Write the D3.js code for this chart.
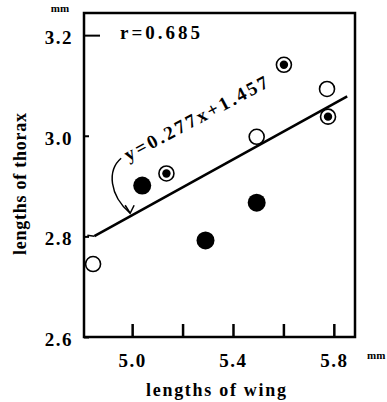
<!DOCTYPE html>
<html>
<head>
<meta charset="utf-8">
<script src="https://cdn.jsdelivr.net/npm/d3@7"></script>
<style>
  body { margin: 0; background: #fff; }
  text { font-family: "Liberation Serif", "DejaVu Serif", serif; font-weight: bold; fill: #000; }
</style>
</head>
<body>
<div id="chart"></div>
<script>
// Data (wing length vs thorax length, mm)
const openX = [4.845, 5.494, 5.773];
const openY = [2.745, 2.998, 3.093];
const filledX = [5.04, 5.291, 5.494];
const filledY = [2.901, 2.792, 2.867];
const ringX = [5.136, 5.602, 5.777];
const ringY = [2.925, 3.141, 3.038];

const xTicks = [5.0, 5.2, 5.4, 5.6, 5.8];
const xLabels = ["5.0", "", "5.4", "", "5.8"];
const yTicks = [2.6, 2.8, 3.0, 3.2];

const slope = 0.277, intercept = 1.457;
const fitRange = [4.85, 5.853];

// SVG setup
const W = 387, H = 402;
const margin = {top: 13, right: 32, bottom: 65, left: 84};
const width = W - margin.left - margin.right;
const height = H - margin.top - margin.bottom;

const svg = d3.select("#chart")
    .append("svg")
    .attr("width", W)
    .attr("height", H)
    .append("g")
    .attr("transform", `translate(${margin.left}, ${margin.top})`);

const x = d3.scaleLinear().domain([4.809, 5.884]).range([0, width]);
const y = d3.scaleLinear().domain([2.6, 3.244]).range([height, 0]);

// X axis: inward ticks, labels only on every other tick
const xAxis = svg.append("g")
    .attr("transform", `translate(0, ${height})`)
    .call(d3.axisBottom(x).tickValues(xTicks)
        .tickFormat((d, i) => xLabels[i])
        .tickSizeInner(-13).tickSizeOuter(0).tickPadding(17));
xAxis.select(".domain").remove();
xAxis.selectAll("line").attr("stroke", "#000").attr("stroke-width", 2.5);
xAxis.selectAll("text")
    .style("font-size", "19px")
    .attr("letter-spacing", "1.5px");

// Y axis
const yAxis = svg.append("g")
    .call(d3.axisLeft(y).tickValues(yTicks)
        .tickFormat(d3.format(".1f"))
        .tickSizeInner(-5).tickSizeOuter(0).tickPadding(11));
yAxis.select(".domain").remove();
yAxis.selectAll("line")
    .attr("stroke", "#000").attr("stroke-width", 2)
    .attr("x2", d => d === 3.2 ? 16 : 5);
yAxis.selectAll("text")
    .style("font-size", "19px")
    .attr("letter-spacing", "1.5px")
    .attr("dy", "0.45em");

// Frame
svg.append("rect")
    .attr("width", width)
    .attr("height", height)
    .attr("fill", "none")
    .attr("stroke", "#000")
    .attr("stroke-width", 2.5);

// Regression line
const fit = v => slope * v + intercept;
svg.append("line")
    .attr("x1", x(fitRange[0])).attr("y1", y(fit(fitRange[0])))
    .attr("x2", x(fitRange[1])).attr("y2", y(fit(fitRange[1])))
    .attr("stroke", "#000").attr("stroke-width", 2.6);
svg.append("line")
    .attr("x1", x(fitRange[0]) - 7).attr("y1", y(fit(fitRange[0])) - 1)
    .attr("x2", x(fitRange[0])).attr("y2", y(fit(fitRange[0])))
    .attr("stroke", "#000").attr("stroke-width", 1.5);

// Points
svg.selectAll(".open")
    .data(openX)
    .enter().append("circle")
    .attr("cx", d => x(d))
    .attr("cy", (d, i) => y(openY[i]))
    .attr("r", 7.5)
    .attr("fill", "#fff")
    .attr("stroke", "#000")
    .attr("stroke-width", 1.6);

svg.selectAll(".filled")
    .data(filledX)
    .enter().append("circle")
    .attr("cx", d => x(d))
    .attr("cy", (d, i) => y(filledY[i]))
    .attr("r", 9)
    .attr("fill", "#000");

const rings = svg.selectAll(".ring")
    .data(ringX)
    .enter().append("g")
    .attr("transform", (d, i) => `translate(${x(d)}, ${y(ringY[i])})`);
rings.append("circle")
    .attr("r", 7.5)
    .attr("fill", "#fff")
    .attr("stroke", "#000")
    .attr("stroke-width", 1.6);
rings.append("circle")
    .attr("r", 4.2)
    .attr("fill", "#000");

// Equation annotation, running along the fitted line
const eqX = 199 - margin.left, eqY = 124 - margin.top;
svg.append("text")
    .attr("transform", `translate(${eqX}, ${eqY}) rotate(-28)`)
    .attr("text-anchor", "middle")
    .attr("textLength", 160)
    .attr("lengthAdjust", "spacing")
    .style("font-size", "19px")
    .text("y=0.277x+1.457");

// Curved arrow pointing at the line
const tipX = x(5.0) - 2, tipY = y(fit(5.0)) - 2;
svg.append("path")
    .attr("d", `M${tipX - 9},${tipY - 55} C${tipX - 23},${tipY - 43} ${tipX - 21},${tipY - 18} ${tipX},${tipY}`)
    .attr("fill", "none").attr("stroke", "#000").attr("stroke-width", 1.5);
svg.append("path")
    .attr("d", `M${tipX - 5},${tipY - 8} L${tipX},${tipY} L${tipX + 4},${tipY - 8}`)
    .attr("fill", "none").attr("stroke", "#000").attr("stroke-width", 1.5);

// Correlation coefficient
svg.append("text")
    .attr("x", 120 - margin.left)
    .attr("y", 39 - margin.top)
    .attr("textLength", 80)
    .attr("lengthAdjust", "spacing")
    .style("font-size", "19px")
    .text("r=0.685");

// Units
svg.append("text")
    .attr("x", -24).attr("y", -1)
    .attr("text-anchor", "middle")
    .style("font-size", "11px")
    .text("mm");
svg.append("text")
    .attr("x", width + 12).attr("y", height + 22)
    .style("font-size", "11px")
    .text("mm");

// Axis titles
svg.append("text")
    .attr("x", x(5.4) - 17)
    .attr("y", height + 59)
    .attr("text-anchor", "middle")
    .attr("textLength", 140)
    .attr("lengthAdjust", "spacing")
    .style("font-size", "18px")
    .text("lengths of wing");

svg.append("text")
    .attr("transform", `translate(${-58}, ${184 - margin.top}) rotate(-90)`)
    .attr("text-anchor", "middle")
    .attr("textLength", 142)
    .attr("lengthAdjust", "spacing")
    .style("font-size", "18px")
    .text("lengths of thorax");
</script>
</body>
</html>
